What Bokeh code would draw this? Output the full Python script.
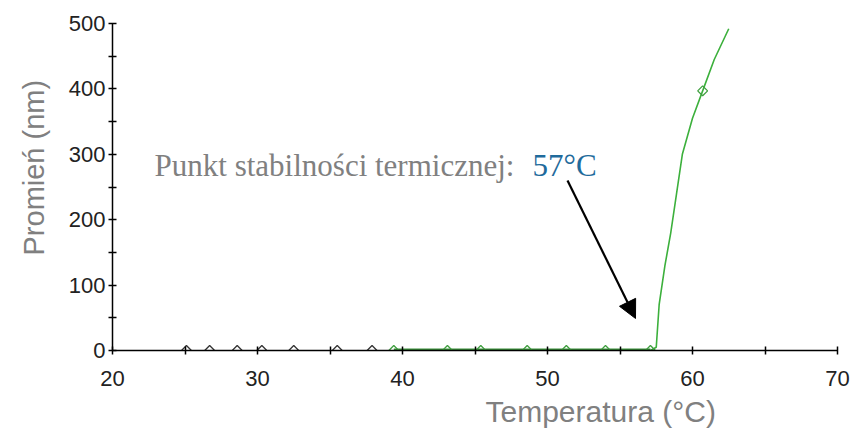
import numpy as np
from bokeh.plotting import figure
from bokeh.models import Label, Arrow, NormalHead, FixedTicker, Range1d, Title
from bokeh.embed import file_html
from bokeh.resources import INLINE

# --- data ---
black_t = [25.1, 26.7, 28.6, 30.3, 32.5, 35.5, 37.9]
black_r = [0, 0, 0, 0, 0, 0, 0]
green_t = [39.4, 43.1, 45.4, 48.6, 51.3, 54.0, 57.1, 60.7]
green_r = [0, 0, 0, 0, 0, 0, 0, 397]
curve_t = [57.1, 57.5, 57.7, 58.1, 58.5, 58.9, 59.3, 60.0, 60.7, 61.5, 62.5]
curve_r = [0, 5, 70, 130, 180, 240, 300, 355, 397, 445, 492]
x_ticks = [20, 30, 40, 50, 60, 70]
y_ticks = [0, 100, 200, 300, 400, 500]

p = figure(width=851, height=432, output_backend="svg", toolbar_location=None,
           x_range=Range1d(20, 70), y_range=Range1d(0, 500),
           min_border_left=112, min_border_right=14, min_border_top=23, min_border_bottom=82)
p.outline_line_color = None
p.grid.visible = False
p.background_fill_color = "white"
p.border_fill_color = "white"

for ax in (p.xaxis[0], p.yaxis[0]):
    ax.axis_line_color = "black"
    ax.axis_line_width = 1.5
    ax.major_tick_line_color = "black"
    ax.minor_tick_line_color = "black"
    ax.major_tick_line_width = 1.5
    ax.minor_tick_line_width = 1.5
    ax.major_tick_in = 4
    ax.major_tick_out = 4
    ax.minor_tick_in = 4
    ax.minor_tick_out = 4
    ax.major_label_text_font = "Liberation Sans"
    ax.major_label_text_font_size = "22px"
    ax.major_label_text_color = "#222222"

p.xaxis[0].ticker = FixedTicker(ticks=x_ticks, minor_ticks=[25, 35, 45, 55, 65])
p.yaxis[0].ticker = FixedTicker(ticks=y_ticks, minor_ticks=[50, 150, 250, 350, 450])
p.xaxis[0].major_label_standoff = 16
p.yaxis[0].major_label_standoff = 3

# lines
p.line(green_t[:-1], green_r[:-1], line_color="#3a8f3a", line_width=4)
p.line([20, 70], [0, 0], line_color="black", line_width=1.2, line_alpha=0.8)
p.line(curve_t, curve_r, line_color="#3cb03c", line_width=1.6)

p.scatter(black_t, black_r, marker="square", angle=np.pi / 4, size=7, fill_color="white",
          line_color="#333333", line_width=1.3)
p.scatter(green_t, green_r, marker="square", angle=np.pi / 4, size=7, fill_color="white",
          fill_alpha=0.0, line_color="#3f9f3f", line_width=1.3)

# annotation
p.add_layout(Label(x=22.9, y=282.5, text="Punkt stabilności termicznej:",
                   text_font="Liberation Serif", text_font_size="31px",
                   text_color="#808080", text_baseline="alphabetic"))
p.add_layout(Label(x=48.97, y=282.5, text="57°C",
                   text_font="Liberation Serif", text_font_size="31px",
                   text_color="#1f6b9c", text_baseline="alphabetic"))
p.add_layout(Arrow(end=NormalHead(size=18, fill_color="black", line_color="black"),
                   x_start=51.38, y_start=260, x_end=56.07, y_end=49,
                   line_color="black", line_width=2.2))

# axis titles
p.add_layout(Title(text="Temperatura (°C)", align="left", offset=373,
                   text_font="Liberation Sans", text_font_size="30px",
                   text_color="#808080", text_font_style="normal", standoff=8), "below")
p.add_layout(Title(text="Promień (nm)", align="left", offset=95, vertical_align="top",
                   text_font="Liberation Sans", text_font_size="29px",
                   text_color="#808080", text_font_style="normal", standoff=28), "left")

open("out.html", "w").write(file_html(p, INLINE))
